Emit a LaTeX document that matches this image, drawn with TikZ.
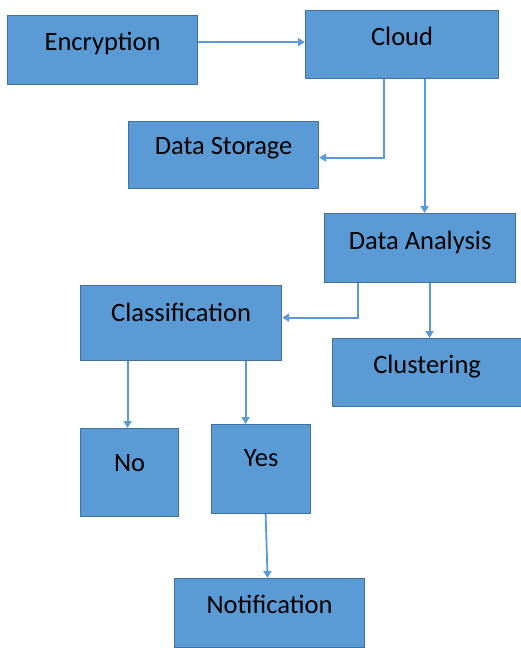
\documentclass[tikz,border=0pt]{standalone}
\usepackage{fontspec}
\setmainfont{Carlito}
\usetikzlibrary{arrows.meta}
\definecolor{boxfill}{HTML}{5B9BD5}
\definecolor{boxline}{HTML}{41719C}
\definecolor{linkcol}{HTML}{5B9BD5}
\begin{document}
\begin{tikzpicture}[x=1pt,y=-1pt,
  box/.style={draw=boxline, fill=boxfill, line width=1.2pt, inner sep=0pt,
    anchor=north west, font=\fontsize{26.5}{30}\selectfont},
  link/.style={draw=linkcol, line width=1.8pt, -{Triangle[length=7pt,width=8pt]}}]
\fill[white] (0,0) rectangle (521,648);
\useasboundingbox (0,0) rectangle (521,648);

% process blocks
\node[box, minimum width=190pt, minimum height=69pt, text height=35pt, text depth=34pt] (enc) at (7,15) {Encryption};
\node[box, minimum width=193pt, minimum height=68pt, text height=35pt, text depth=33pt] (cloud) at (305,10) {Cloud};
\node[box, minimum width=190pt, minimum height=67pt, text height=33pt, text depth=34pt] (store) at (128,121) {Data Storage};
\node[box, minimum width=191pt, minimum height=69pt, text height=36pt, text depth=33pt] (ana) at (324,213) {Data Analysis};
\node[box, minimum width=201pt, minimum height=75pt, text height=36pt, text depth=39pt] (cls) at (80,285) {Classification};
\node[box, minimum width=189pt, minimum height=68pt, text height=35pt, text depth=33pt] (clu) at (332,338) {Clustering};
\node[box, minimum width=98pt, minimum height=88pt, text height=43pt, text depth=45pt] (no) at (80,428) {No};
\node[box, minimum width=99pt, minimum height=89pt, text height=42pt, text depth=47pt] (yes) at (211,424) {Yes};
\node[box, minimum width=190pt, minimum height=69pt, text height=35pt, text depth=34pt] (note) at (174,578) {Notification};

% connectors
\draw[link] ([yshift=8pt]enc.east) -- ([yshift=8pt]enc.east -| cloud.west);
\draw[link] ([xshift=-18.5pt]cloud.south) |- ([yshift=-2.5pt]store.east);
\draw[link] ([xshift=22.5pt]cloud.south) -- ([xshift=22.5pt]cloud.south |- ana.north);
\draw[link] ([xshift=-62pt]ana.south) |- ([yshift=5.5pt]cls.east);
\draw[link] ([xshift=9.5pt]ana.south) -- ([xshift=9.5pt]ana.south |- clu.north);
\draw[link] ([xshift=-2pt]no.north |- cls.south) -- ([xshift=-2pt]no.north);
\draw[link] ([xshift=-15.5pt]yes.north |- cls.south) -- ([xshift=-15.5pt]yes.north);
\draw[link] ([xshift=4.5pt]yes.south) -- ([xshift=-2pt]note.north);
\end{tikzpicture}
\end{document}
